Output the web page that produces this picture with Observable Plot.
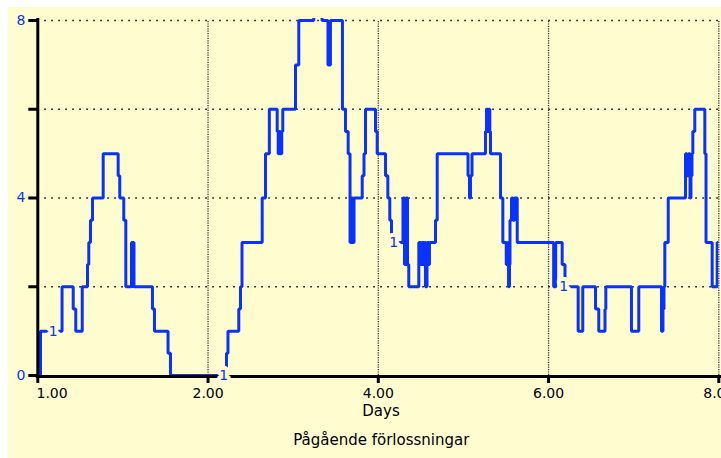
<!DOCTYPE html>
<html><head><meta charset="utf-8">
<script src="https://cdn.jsdelivr.net/npm/d3@7"></script>
<script src="https://cdn.jsdelivr.net/npm/@observablehq/plot@0.6"></script>
<style>
html,body{margin:0;padding:0;background:#fff;}
#wrap{position:absolute;left:8px;top:7px;width:713px;height:451px;background:#fffcd0;overflow:hidden;}
</style></head><body><div id="wrap"></div>
<script>
// step series: time (days) at which the value changes, and the new value
const times = [0, 0.032, 0.285, 0.416, 0.446, 0.522, 0.584, 0.599, 0.619, 0.643,
  0.768, 0.944, 0.963, 1.010, 1.034, 1.101, 1.130, 1.347, 1.371, 1.530,
  1.559, 2.217, 2.234, 2.361, 2.381, 2.399, 2.636, 2.675, 2.720, 2.812,
  2.824, 2.839, 2.849, 2.866, 2.878, 3.027, 3.066, 3.242, 3.339, 3.409,
  3.438, 3.579, 3.615, 3.646, 3.668, 3.685, 3.700, 3.715, 3.811, 3.832,
  3.850, 3.967, 3.987, 4.085, 4.112, 4.135, 4.155, 4.290, 4.308, 4.325,
  4.343, 4.358, 4.476, 4.502, 4.513, 4.531, 4.543, 4.554, 4.572, 4.590,
  4.601, 4.672, 4.692, 5.054, 5.071, 5.083, 5.101, 5.259, 5.271, 5.286,
  5.295, 5.310, 5.318, 5.436, 5.463, 5.503, 5.521, 5.530, 5.541, 5.547,
  5.565, 5.582, 5.600, 5.632, 6.060, 6.084, 6.160, 6.193, 6.348, 6.402,
  6.552, 6.590, 6.663, 6.673, 6.974, 7.060, 7.327, 7.344, 7.356, 7.366,
  7.406, 7.609, 7.626, 7.644, 7.662, 7.673, 7.685, 7.695, 7.718, 7.836,
  7.850, 7.922, 7.981, 8];
const values = [0, 1, 2, 1.5, 1, 2, 2.5, 3, 3.5, 4,
  5, 4.5, 4, 3.5, 2, 3, 2, 1.5, 1, 0.5,
  0, 0.5, 1, 1.5, 2, 3, 4, 5, 6, 5.5,
  5, 5.5, 5, 5.5, 6, 7, 8, 9, 8, 7,
  8, 6, 5.5, 5, 3, 4, 3, 4, 4.5, 5,
  6, 5.5, 5, 4.5, 4, 3.5, 3, 4, 2.5, 4,
  2.5, 2, 3, 2.5, 3, 2.5, 3, 2, 3, 2.5,
  3, 3.5, 5, 4.5, 4, 4.5, 5, 5.5, 6, 5.5,
  6, 5.5, 5, 4, 3, 2.5, 3, 2, 2.5, 3.5,
  4, 3.5, 4, 3, 2, 3, 2.5, 2, 1, 2,
  1.5, 1, 1.5, 2, 1, 2, 1, 1.5, 2, 3,
  4, 5, 4.5, 5, 4, 4.5, 5, 5.5, 6, 5,
  3, 2, 3, 3];

const xTicks = [0, 2, 4, 6, 8];
const xTickLabels = ["1.00", "2.00", "4.00", "6.00", "8.00"];
const yTicks = [0, 2, 4, 6, 8];
const yTickLabels = ["0", "", "4", "", "8"];
const gridX = [2, 4, 6, 8];
const gridY = [2, 4, 6, 8];
const markerTimes = [0.181, 2.185, 4.182, 6.179];
const markerValues = [1, 0, 3, 2];
const markerText = "1";
const xLabel = "Days";
const title = "Pågående förlossningar";

const blue = "#0a32ff";
const bg = "#fffcd0";

const series = times.map((t, i) => ({t, v: values[i]}));
const markers = markerTimes.map((t, i) => ({t, v: markerValues[i]}));
const xt = xTicks.map((t, i) => ({t, label: xTickLabels[i]}));
const yt = yTicks.map((v, i) => ({v, label: yTickLabels[i]}));

const chart = Plot.plot({
  width: 713,
  height: 451,
  marginLeft: 29.3,
  marginRight: 2.7,
  marginTop: 11,
  marginBottom: 83,
  style: {background: "transparent", fontFamily: "DejaVu Sans", fontSize: "14px", overflow: "visible"},
  x: {domain: [0, 8], label: null},
  y: {domain: [0, 8], label: null, insetTop: 2},
  marks: [
    Plot.ruleY(gridY, {x1: 0, x2: 8, stroke: "#000", strokeWidth: 1.5, strokeDasharray: "1.5,5.5"}),
    Plot.ruleX(gridX, {y1: 0, y2: 8, stroke: "#333", strokeWidth: 1.3, strokeDasharray: "1.2,1.2"}),
    Plot.line(series, {x: "t", y: "v", curve: "step-after", stroke: blue, strokeWidth: 3,
      strokeLinejoin: "miter", strokeLinecap: "butt", clip: true}),
    Plot.axisX(xTicks, {tickSize: 8, strokeWidth: 3, tickFormat: () => "", label: null}),
    Plot.axisY(yTicks, {tickSize: 9, strokeWidth: 3, tickFormat: () => "", label: null}),
    Plot.ruleX([0], {strokeWidth: 3, stroke: "#000"}),
    Plot.ruleY([0], {strokeWidth: 3, stroke: "#000", dy: 1, insetLeft: -1.5, insetRight: -12}),
    Plot.text(xt.slice(0, 1), {x: "t", text: "label", frameAnchor: "bottom", lineAnchor: "top", textAnchor: "start", dy: 13, dx: -1.3, fill: "#000", fontSize: 14}),
    Plot.text(xt.slice(1), {x: "t", text: "label", frameAnchor: "bottom", lineAnchor: "top", dy: 13, fill: "#000", fontSize: 14}),
    Plot.text(yt, {y: "v", text: "label", frameAnchor: "left", textAnchor: "end", dx: -12.3, fill: blue, fontSize: 14}),
    Plot.text(markers, {x: "t", y: "v", text: () => markerText, fill: blue, stroke: bg, strokeWidth: 8, fontSize: 14}),
    Plot.text([xLabel], {text: d => d, frameAnchor: "bottom", dy: 40.5, dx: 2.7, fill: "#000", fontSize: 15}),
    Plot.text([title], {text: d => d, frameAnchor: "bottom", dy: 69, dx: 3, fill: "#000", fontSize: 15})
  ]
});
document.getElementById("wrap").appendChild(chart);
</script>
</body></html>
